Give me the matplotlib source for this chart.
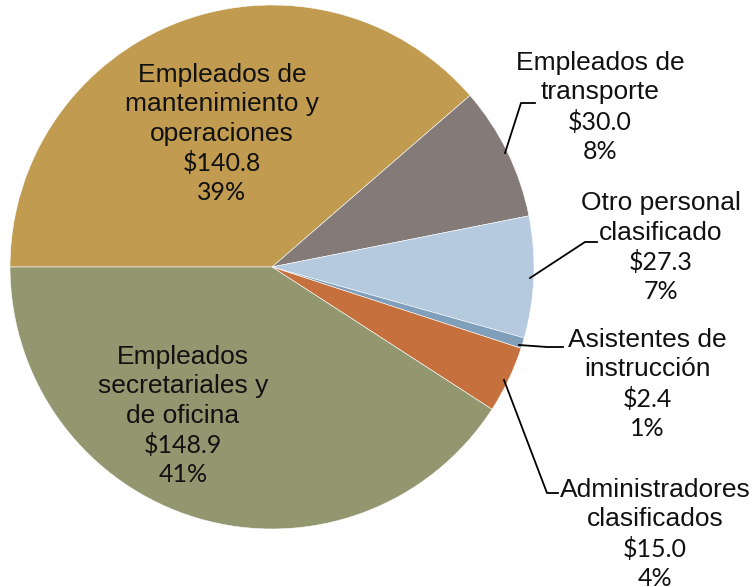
import matplotlib.pyplot as plt

# Data (millions)
categories = ["Empleados de\nmantenimiento y\noperaciones", "Empleados de\ntransporte",
              "Otro personal\nclasificado", "Asistentes de\ninstrucción",
              "Administradores\nclasificados", "Empleados\nsecretariales y\nde oficina"]
values = [140.8, 30.0, 27.3, 2.4, 15.0, 148.9]
colors = ['#C09B50', '#847B78', '#B5CADF', '#7F9FBB', '#C6703D', '#939770']

W, H = 755, 587
fig = plt.figure(figsize=(W / 100, H / 100), dpi=100)
ax = fig.add_axes([0, 0, 1, 1])

# pie centre / radius in pixel coords
cx, cy, r = 272, H - 267, 262
ax.pie(values, colors=colors, startangle=180, counterclock=False,
       center=(cx, cy), radius=r, frame=True,
       wedgeprops=dict(edgecolor='white', linewidth=0.4))
ax.set_xlim(0, W)
ax.set_ylim(0, H)
ax.set_aspect('equal')
ax.axis('off')

total = sum(values)
# label anchor (x, y of first line, in image pixels) for each slice
label_pos = [(222, 75), (600, 63), (661, 203), (647, 340), (655, 490), (183, 357)]
line_step = 29.5

for cat, val, (lx, ly) in zip(categories, values, label_pos):
    lines = cat.split("\n")
    pct = f"{val / total * 100:.0f}%"
    for i, t in enumerate(lines):
        ax.text(lx, H - (ly + i * line_step), t, ha='center', va='center',
                fontsize=19, family='Liberation Sans', color='#111111')
    n = len(lines)
    ax.text(lx, H - (ly + n * line_step), f"${val:.1f}", ha='center', va='center',
            fontsize=18, family='Lato', color='#111111')
    ax.text(lx, H - (ly + (n + 1) * line_step), pct, ha='center', va='center',
            fontsize=18, family='Lato', color='#111111')

# leader lines
leaders = [
    [(505, 153), (521, 103), (535, 103)],
    [(530, 278), (585, 242), (597, 242)],
    [(519, 345), (547, 347), (563, 347)],
    [(504, 380), (547, 493), (558, 493)],
]
for pts in leaders:
    xs = [p[0] for p in pts]
    ys = [H - p[1] for p in pts]
    ax.plot(xs, ys, color='black', lw=1.3)

fig.savefig('out.png', dpi=100)
